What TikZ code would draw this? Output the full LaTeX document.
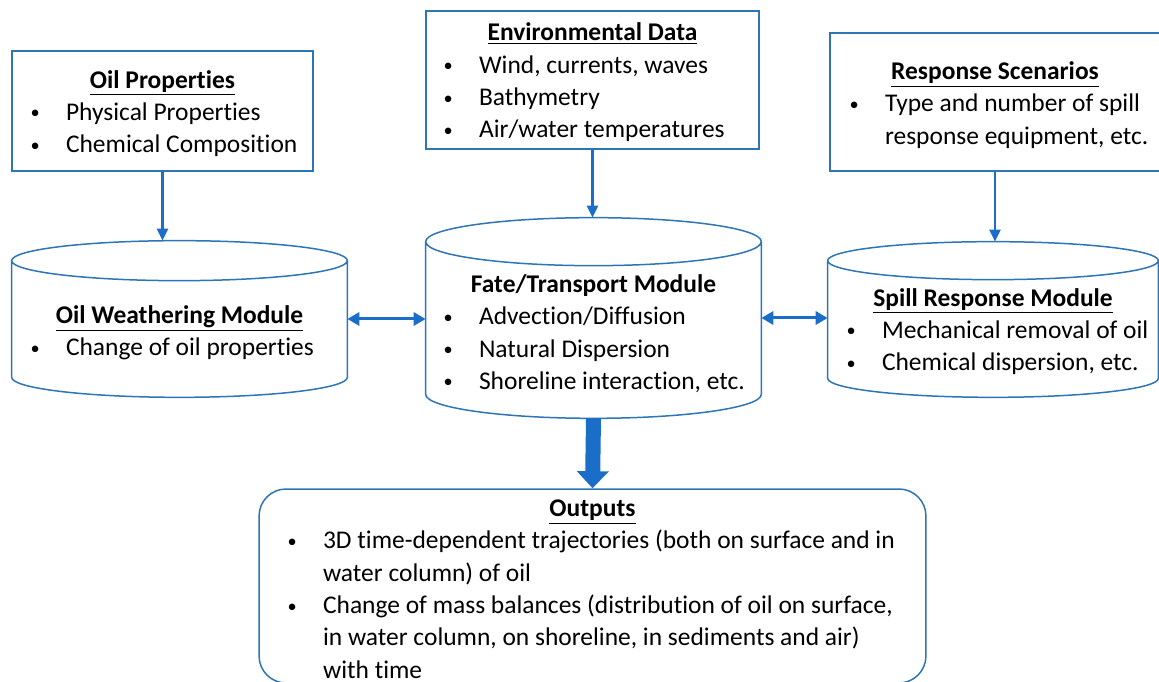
\documentclass[tikz,border=0pt]{standalone}
\usepackage{fontspec}
\setmainfont{Carlito}[Ligatures=NoCommon]
\usepackage{array}
\usepackage{graphicx}
\usetikzlibrary{positioning}
\usetikzlibrary{calc}
\usetikzlibrary{arrows.meta}
\definecolor{modblue}{HTML}{2E75B6}
\definecolor{arrowblue}{HTML}{1B6EC8}
\newcolumntype{W}[1]{>{\hbox to #1\bgroup}l<{\hss\egroup}}
\newcommand{\ttl}[1]{\underline{\textbf{#1}}}
\newcommand{\itm}{\hspace{0.3ex}\raisebox{0.12ex}{\scalebox{0.72}{\textbullet}}}
\newcommand{\sink}[2]{\raisebox{-#1}[\height][\depth]{#2}}
\newcommand{\cyl}[2]{%
	\draw[modline] let \p1=(#1.north west), \p2=(#1.south east), \n1={#2*0.02cm}, \n2={(\x2-\x1)/2} in
		(\x1,{\y1-\n1}) -- (\x1,{\y2+\n1})
		arc[start angle=180, end angle=360, x radius={\n2*1pt}, y radius={\n1*1pt}]
		-- (\x2,{\y1-\n1})
		({\x1+\n2},{\y1-\n1}) ellipse[x radius={\n2*1pt}, y radius={\n1*1pt}];}
\tikzset{
	box/.style = {rectangle, draw=modblue, line width=0.03cm, inner sep=0pt},
	body/.style = {rectangle, inner sep=0pt},
	note/.style = {inner sep=0pt},
	modline/.style = {draw=modblue, line width=0.03cm},
	feed/.style = {-{Triangle[length=0.24cm,width=0.22cm]}, draw=arrowblue, line width=0.05cm},
	link/.style = {{Triangle[length=0.24cm,width=0.26cm]}-{Triangle[length=0.24cm,width=0.26cm]}, draw=arrowblue, line width=0.06cm},
	outflow/.style = {-{Triangle[length=0.34cm,width=0.62cm]}, draw=arrowblue, line width=0.3cm}
}

\begin{document}
\begin{tikzpicture}[x=0.02cm, y=0.02cm, every node/.append style={font=\fontsize{14.5}{18.4}\selectfont}]
	\useasboundingbox (0,0) rectangle (1159,682);
	
	% Inputs
	\node[box, minimum width=6.02cm, minimum height=2.4cm] (oilprop) at (162.5,571) {\sink{0.06cm}{%
		\begin{tabular}{@{}W{0.78cm}@{}W{4.64cm}@{}}
			\multicolumn{2}{@{}c@{}}{\ttl{Oil Properties}}\\
			\itm & Physical Properties\\
			\itm & Chemical Composition
		\end{tabular}}};
	\node[box, minimum width=6.66cm, minimum height=2.76cm] (envdata) at (592.5,602) {\sink{0.06cm}{%
		\begin{tabular}{@{}W{0.78cm}@{}W{5.32cm}@{}}
			\multicolumn{2}{@{}c@{}}{\ttl{Environmental Data}}\\
			\itm & Wind, currents, waves\\
			\itm & Bathymetry\\
			\itm & Air/water temperatures
		\end{tabular}}};
	\node[box, minimum width=6.6cm, minimum height=2.76cm] (scenarios) at (995,580) {\sink{0.07cm}{%
		\begin{tabular}{@{}W{0.78cm}@{}W{5.18cm}@{}}
			\multicolumn{2}{@{}c@{}}{\ttl{Response Scenarios}}\\
			\itm & Type and number of spill\\
			& response equipment, etc.
		\end{tabular}}};
	
	% Modules
	\node[body, minimum width=6.7cm, minimum height=3.12cm] (weather) at (179.5,363) {};
	\cyl{weather}{20}
	\node[note] (weathertxt) at (179.5,349) {%
		\begin{tabular}{@{}W{0.78cm}@{}W{5.32cm}@{}}
			\multicolumn{2}{@{}c@{}}{\ttl{Oil Weathering Module}}\\
			\itm & Change of oil properties
		\end{tabular}};
	
	\node[body, minimum width=6.7cm, minimum height=4cm] (fate) at (593.5,364) {};
	\cyl{fate}{24}
	\node[note] (fatetxt) at (593.5,347.5) {%
		\begin{tabular}{@{}W{0.78cm}@{}W{5.36cm}@{}}
			\multicolumn{2}{@{}c@{}}{\textbf{Fate/Transport Module}}\\
			\itm & Advection/Diffusion\\
			\itm & Natural Dispersion\\
			\itm & Shoreline interaction, etc.
		\end{tabular}};
	
	\node[body, minimum width=6.6cm, minimum height=3.1cm] (spill) at (993,362.5) {};
	\cyl{spill}{19}
	\node[note] (spilltxt) at (993,350) {%
		\begin{tabular}{@{}W{0.78cm}@{}W{5.22cm}@{}}
			\multicolumn{2}{@{}c@{}}{\ttl{Spill Response Module}}\\
			\itm & Mechanical removal of oil\\
			\itm & Chemical dispersion, etc.
		\end{tabular}};
	
	% Outputs
	\node[box, rounded corners=0.54cm, minimum width=13.34cm, minimum height=3.8cm] (outputs) at (592.5,96) {\sink{0.1cm}{%
		\begin{tabular}{@{}W{0.78cm}@{}W{11.56cm}@{}}
			\multicolumn{2}{@{}c@{}}{\ttl{Outputs}}\\
			\itm & 3D time-dependent trajectories (both on surface and in\\
			& water column) of oil\\
			\itm & Change of mass balances (distribution of oil on surface,\\
			& in water column, on shoreline, in sediments and air)\\
			& with time
		\end{tabular}}};
	
	\draw[feed] (oilprop.south) -- (oilprop.south |- weather.north);
	\draw[feed] (envdata.south) -- (envdata.south |- fate.north);
	\draw[feed] (scenarios.south) -- (scenarios.south |- spill.north);
	\draw[link] (weather.east) -- (weather.east -| fate.west);
	\draw[link] (fate.east) -- (fate.east -| spill.west);
	\draw[outflow] (fate.south) -- (outputs.north);
	
\end{tikzpicture}
\end{document}
